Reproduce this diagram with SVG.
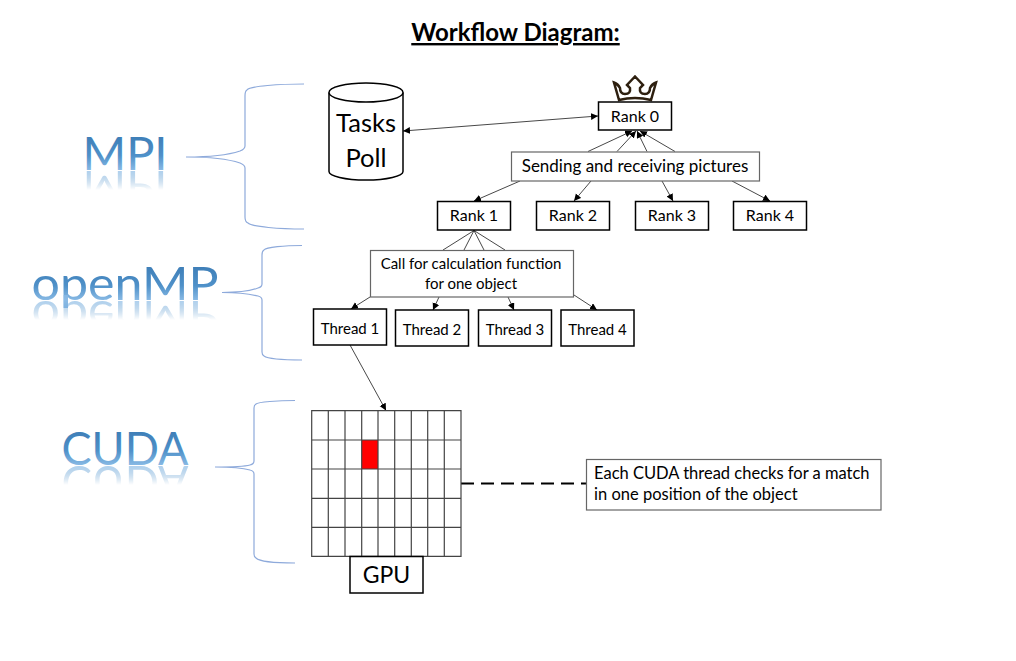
<svg xmlns="http://www.w3.org/2000/svg" width="1016" height="661" viewBox="0 0 1016 661">
<style>
text{font-family:"Lato","Open Sans","Liberation Sans",sans-serif;fill:#000;text-anchor:middle}
.box{fill:#fff;stroke:#000;stroke-width:1.5}
.gbox{fill:#fff;stroke:#666;stroke-width:1.2}
.lbl{font-size:15px}
.rk{font-size:16px}
.big{font-size:25.500px}
.brace{fill:none;stroke:#8eaadb;stroke-width:1.2}
.con{stroke:#333;stroke-width:.9;fill:none}
.arr{marker-end:url(#ah)}
.hdr{font-size:46px}
.grid{stroke:#444;stroke-width:1.2;fill:none}
</style>
<defs>
<marker id="ah" markerUnits="userSpaceOnUse" markerWidth="8" markerHeight="8" refX="7" refY="3.500" orient="auto-start-reverse"><path d="M0 0L7 3.500L0 7z" fill="#000"/></marker>
<linearGradient id="g1" gradientUnits="userSpaceOnUse" x1="0" y1="137" x2="0" y2="171"><stop offset="0" stop-color="#3f7fb8"/><stop offset=".55" stop-color="#4f91c9"/><stop offset="1" stop-color="#8cbce6"/></linearGradient>
<linearGradient id="g2" gradientUnits="userSpaceOnUse" x1="0" y1="267" x2="0" y2="301"><stop offset="0" stop-color="#3f7fb8"/><stop offset=".55" stop-color="#4f91c9"/><stop offset="1" stop-color="#8cbce6"/></linearGradient>
<linearGradient id="g3" gradientUnits="userSpaceOnUse" x1="0" y1="432" x2="0" y2="466"><stop offset="0" stop-color="#3f7fb8"/><stop offset=".55" stop-color="#4f91c9"/><stop offset="1" stop-color="#8cbce6"/></linearGradient>
<linearGradient id="f1" gradientUnits="userSpaceOnUse" x1="0" y1="170" x2="0" y2="190"><stop offset="0" stop-color="#fff" stop-opacity=".7"/><stop offset="1" stop-color="#fff" stop-opacity="0"/></linearGradient>
<linearGradient id="f2" gradientUnits="userSpaceOnUse" x1="0" y1="300" x2="0" y2="320"><stop offset="0" stop-color="#fff" stop-opacity=".7"/><stop offset="1" stop-color="#fff" stop-opacity="0"/></linearGradient>
<linearGradient id="f3" gradientUnits="userSpaceOnUse" x1="0" y1="465" x2="0" y2="485"><stop offset="0" stop-color="#fff" stop-opacity=".7"/><stop offset="1" stop-color="#fff" stop-opacity="0"/></linearGradient>
<mask id="m1" maskUnits="userSpaceOnUse" x="0" y="165" width="300" height="40"><rect x="0" y="165" width="300" height="40" fill="url(#f1)"/></mask>
<mask id="m2" maskUnits="userSpaceOnUse" x="0" y="295" width="300" height="40"><rect x="0" y="295" width="300" height="40" fill="url(#f2)"/></mask>
<mask id="m3" maskUnits="userSpaceOnUse" x="0" y="460" width="300" height="40"><rect x="0" y="460" width="300" height="40" fill="url(#f3)"/></mask>
</defs>
<rect width="1016" height="661" fill="#fff"/>
<g id="title"><text x="515.500" y="41" font-size="24" font-weight="700" text-decoration="underline">Workflow Diagram:</text></g>

<g id="braces">
<path class="brace" d="M304 84C280 84 250 86 247 90Q245 91 245 96V146Q245 149 240 151C228 155 205 157 186 157C205 157 228 159 240 163Q245 165 245 168V217Q245 222 248 223C252 227 280 229 304 229"/>
<path class="brace" d="M302 245.500C285 245.500 266 247 264 250Q262 251 262 255V284Q262 287 258 288C250 291 235 292.500 222 292.500C235 292.500 250 294 258 296Q262 297 262 300V352Q262 355 264 356C268 359 285 360 302 360"/>
<path class="brace" d="M295 400.500C278 400.500 258 402 256 404Q254 405 254 408V461Q254 464 250 465C243 467 228 467 215 467C228 467 243 468 250 470Q254 471 254 474V554Q254 557 256 558C260 562 278 563 295 563"/>
</g>

<g id="label-mpi">
<text id="t-mpi" class="hdr" x="125" y="170" textLength="85" lengthAdjust="spacingAndGlyphs" style="fill:url(#g1)">MPI</text>
<g mask="url(#m1)"><use href="#t-mpi" transform="matrix(1 0 0 -1 0 341)"/></g>
</g>
<g id="label-openmp">
<text id="t-omp" class="hdr" x="125" y="300" textLength="187" lengthAdjust="spacingAndGlyphs" style="fill:url(#g2)">openMP</text>
<g mask="url(#m2)"><use href="#t-omp" transform="matrix(1 0 0 -1 0 601)"/></g>
</g>
<g id="label-cuda">
<text id="t-cuda" class="hdr" x="125" y="465" textLength="127" lengthAdjust="spacingAndGlyphs" style="fill:url(#g3)">CUDA</text>
<g mask="url(#m3)"><use href="#t-cuda" transform="matrix(1 0 0 -1 0 931)"/></g>
</g>

<g id="connectors">
<line class="con arr" x1="403" y1="131" x2="598" y2="116" style="marker-start:url(#ah)"/>
<line class="con arr" x1="588" y1="151.500" x2="632" y2="131"/>
<line class="con arr" x1="617" y1="151.500" x2="636" y2="131"/>
<line class="con arr" x1="647" y1="151.500" x2="637" y2="131"/>
<line class="con arr" x1="675" y1="151.500" x2="640" y2="131"/>
<line class="con arr" x1="520" y1="181" x2="474" y2="201"/>
<line class="con arr" x1="591" y1="181" x2="574" y2="201"/>
<line class="con arr" x1="662" y1="181" x2="673" y2="201"/>
<line class="con arr" x1="732" y1="181" x2="770" y2="201"/>
<line class="con" x1="474" y1="230.500" x2="443" y2="250"/>
<line class="con" x1="474" y1="230.500" x2="464" y2="250"/>
<line class="con" x1="474" y1="230.500" x2="484" y2="250"/>
<line class="con" x1="474" y1="230.500" x2="505" y2="250"/>
<line class="con arr" x1="370" y1="297" x2="351" y2="309"/>
<line class="con arr" x1="439" y1="297" x2="433" y2="310"/>
<line class="con arr" x1="508" y1="297" x2="514" y2="310"/>
<line class="con arr" x1="574" y1="295" x2="597" y2="310"/>
<line class="con arr" x1="350" y1="345" x2="386" y2="410.500"/>
<line x1="461" y1="483.500" x2="586" y2="483.500" stroke="#000" stroke-width="2" stroke-dasharray="13 7"/>
</g>

<g id="tasks-poll">
<path d="M329 92.500V171.500C329 176 345 180 366 180C387 180 403 176 403 171.500V92.500" fill="#fff" stroke="#000" stroke-width="1.500"/>
<ellipse cx="366" cy="92.500" rx="37" ry="9.500" fill="#fff" stroke="#000" stroke-width="1.500"/>
<text class="big" x="366" y="132">Tasks</text>
<text class="big" x="366" y="167">Poll</text>
</g>

<g id="crown">
<path d="M619 100L614 82.500Q618 84 620 88Q620 94 625 94Q631 94 630 88L627 85L635 76.500L643 85L640 88Q639 94 645 94Q650 94 650 88Q652 84 656 82.500L651 100Q635 96 619 100Z" fill="#fff" stroke="#2e2010" stroke-width="2.500"/>
</g>

<g id="rank-0"><rect class="box" x="598.500" y="102" width="73" height="28"/><text class="rk" x="635" y="122">Rank 0</text></g>
<g id="sending"><rect class="gbox" x="511.500" y="152" width="248" height="29"/><text style="font-size:17px" x="635" y="172">Sending and receiving pictures</text></g>
<g id="rank-1"><rect class="box" x="437.500" y="201.500" width="73" height="28.500"/><text class="rk" x="474" y="221">Rank 1</text></g>
<g id="rank-2"><rect class="box" x="536.500" y="201.500" width="73" height="28.500"/><text class="rk" x="573" y="221">Rank 2</text></g>
<g id="rank-3"><rect class="box" x="635.500" y="201.500" width="73" height="28.500"/><text class="rk" x="672" y="221">Rank 3</text></g>
<g id="rank-4"><rect class="box" x="733.500" y="201.500" width="73" height="28.500"/><text class="rk" x="770" y="221">Rank 4</text></g>
<g id="call"><rect class="gbox" x="370.500" y="250.500" width="203" height="46.500"/><text class="lbl" x="471" y="269">Call for calculation function</text><text class="lbl" x="471" y="289">for one object</text></g>
<g id="thread-1"><rect class="box" x="313.500" y="309" width="73" height="36"/><text class="lbl" x="350" y="334">Thread 1</text></g>
<g id="thread-2"><rect class="box" x="395.500" y="310" width="73" height="36"/><text class="lbl" x="432" y="335">Thread 2</text></g>
<g id="thread-3"><rect class="box" x="478.500" y="310" width="73" height="36"/><text class="lbl" x="515" y="335">Thread 3</text></g>
<g id="thread-4"><rect class="box" x="561" y="310" width="73" height="36"/><text class="lbl" x="597.500" y="335">Thread 4</text></g>

<g id="gpu-grid">
<rect x="361.700" y="440" width="16.300" height="29" fill="#f00"/>
<path class="grid" d="M311.700 410.700H461V556.300H311.700ZM311.700 440H461M311.700 469H461M311.700 498.300H461M311.700 527.300H461M328.300 410.700V556.300M345 410.700V556.300M361.700 410.700V556.300M378 410.700V556.300M394.700 410.700V556.300M411.300 410.700V556.300M427.700 410.700V556.300M444.300 410.700V556.300"/>
</g>
<g id="gpu"><rect class="box" x="350" y="556.500" width="73" height="36.500"/><text style="font-size:23px" x="386.500" y="583">GPU</text></g>
<g id="note"><rect class="gbox" x="586.500" y="459.500" width="294.500" height="50.500"/><text style="text-anchor:start;font-size:16.500px" x="594" y="479">Each CUDA thread checks for a match</text><text style="text-anchor:start;font-size:16.500px" x="594" y="500">in one position of the object</text></g>
</svg>
